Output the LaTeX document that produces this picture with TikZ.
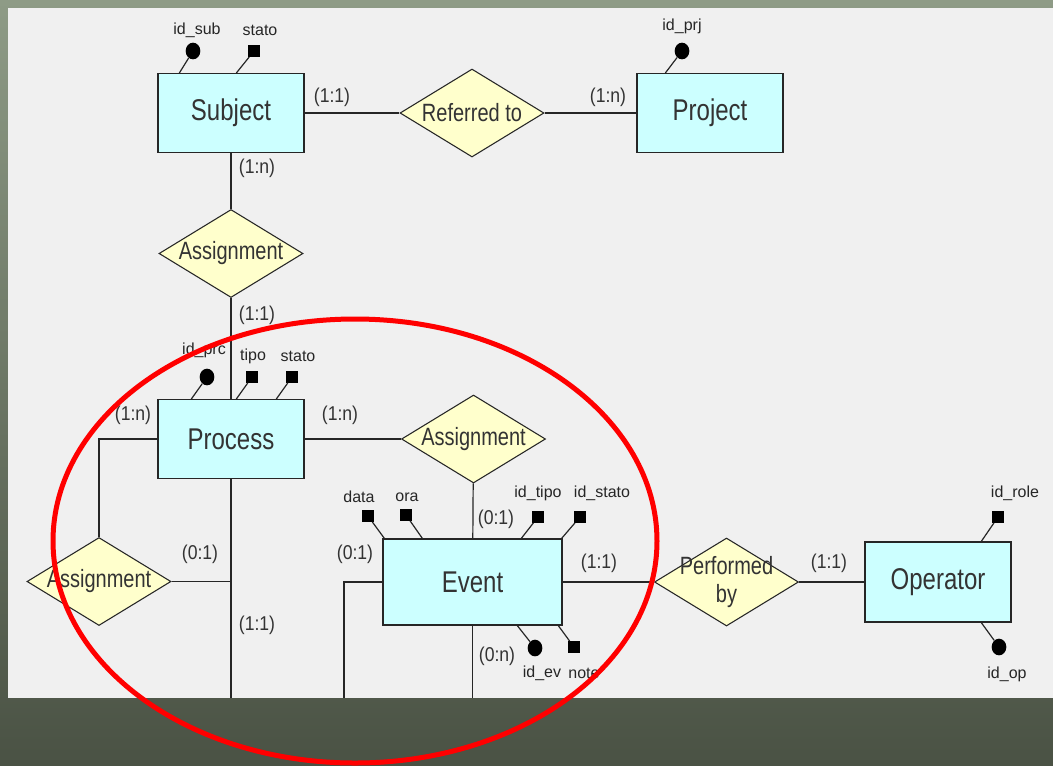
\documentclass[tikz,border=0pt]{standalone}
\usepackage{fontspec}
\setmainfont{Liberation Sans}
\newfontfamily\erfont[FakeStretch=0.8]{Liberation Sans}
\newfontfamily\cardfont[FakeStretch=0.88]{Liberation Sans}
\usetikzlibrary{shapes.geometric,calc}
\definecolor{boardtop}{HTML}{8E9B86}
\definecolor{boardbot}{HTML}{4A5244}
\definecolor{panelgray}{HTML}{F0F0F0}
\definecolor{entfill}{HTML}{CCFFFF}
\definecolor{relfill}{HTML}{FFFFCC}
\definecolor{ertext}{HTML}{333333}

\begin{document}
\begin{tikzpicture}[x=0.75pt,y=0.75pt,yscale=-1,xscale=1,
  entity/.style={draw=black!85,line width=1pt,fill=entfill,inner sep=0pt,minimum width=109.5pt,minimum height=59pt,text=ertext,font=\erfont\fontsize{22.5pt}{26pt}\selectfont},
  relation/.style={diamond,draw=black!85,line width=0.8pt,fill=relfill,inner sep=0pt,minimum width=108pt,minimum height=66pt},
  reltext/.style={text=ertext,font=\erfont\fontsize{18.75pt}{21pt}\selectfont,align=center},
  card/.style={text=ertext,font=\cardfont\fontsize{15pt}{18pt}\selectfont,inner sep=0pt},
  attname/.style={text=black!85,font=\fontsize{12pt}{14pt}\selectfont,inner sep=0pt},
  keyatt/.style={ellipse,fill=black,inner sep=0pt,minimum width=11pt,minimum height=12.5pt},
  plainatt/.style={rectangle,fill=black,inner sep=0pt,minimum size=8.5pt},
  link/.style={draw=black!85,line width=0.9pt}]
\clip (0,0) rectangle (1053,765);

%Board and panel
\shade[top color=boardtop,bottom color=boardbot] (0,0) rectangle (1053,765);
\fill[panelgray] (8,8) rectangle (1053,698);

%Entities
\node[entity] (subject) at (231,113) {Subject};
\node[entity] (project) at (710,113) {Project};
\node[entity] (process) at (231,439) {Process};
\node[entity,minimum width=134.25pt,minimum height=64.5pt] (event) at (472.5,582) {Event};
\node[entity,minimum height=60pt] (operator) at (938,582) {Operator};

%Relations
\node[relation,label={[reltext]center:Referred to}] (referred) at (472,113) {};
\node[relation,label={[reltext]center:Assignment}] (asgsub) at (231,253.5) {};
\node[relation,label={[reltext]center:Assignment}] (asgevt) at (473.5,439) {};
\node[relation,label={[reltext]center:Assignment}] (asgprc) at (99,581.5) {};
\node[relation,label={[reltext]center:Performed\\by}] (performed) at (726.5,582) {};

%Free ends at the panel border
\coordinate (cutprc) at (231,698);
\coordinate (cutevl) at (344,698);
\coordinate (cutevb) at (472.5,698);

%Links
\draw[link] (subject) -- (referred);
\draw[link] (referred) -- (project);
\draw[link] (subject) -- (asgsub);
\draw[link] (asgsub) -- (process);
\draw[link] (process) -- (asgevt);
\draw[link] (asgevt) -- (event);
\draw[link] (event) -- (performed);
\draw[link] (performed) -- (operator);
\draw[link] (process.west) -| (asgprc.north);
\draw[link] (asgprc.east) -- (asgprc.east -| process.south);
\draw[link] (process.south) -- (cutprc);
\draw[link] (event.west) -| (cutevl);
\draw[link] (event.south) -- (cutevb);

%Cardinalities
\node[card] (c1) at (332,97) {(1:1)};
\node[card] (c2) at (608,97) {(1:n)};
\node[card] (c3) at (257,168) {(1:n)};
\node[card] (c4) at (257,315) {(1:1)};
\node[card] (c5) at (133,415) {(1:n)};
\node[card] (c6) at (340,415) {(1:n)};
\node[card] (c7) at (496,519) {(0:1)};
\node[card] (c8) at (200,554) {(0:1)};
\node[card] (c9) at (355,554) {(0:1)};
\node[card] (c10) at (599,563) {(1:1)};
\node[card] (c11) at (829,563) {(1:1)};
\node[card] (c12) at (497,656) {(0:n)};
\node[card] (c13) at (257,625) {(1:1)};

%Attributes of Subject
\node[keyatt] (idsub) at (193,51) {};
\node[attname] (idsubl) at (197,30) {id\_sub};
\draw[link] ($(subject.north west)+(22,0)$) -- (idsub);
\node[plainatt] (statosub) at (254,51) {};
\node[attname] (statosubl) at (260,30) {stato};
\draw[link] ($(subject.north west)+(79,0)$) -- (statosub);

%Attributes of Project
\node[keyatt] (idprj) at (682,51) {};
\node[attname] (idprjl) at (682,26) {id\_prj};
\draw[link] ($(project.north west)+(29,0)$) -- (idprj);

%Attributes of Process
\node[keyatt] (idprc) at (207,377) {};
\node[attname] (idprcl) at (204,350) {id\_prc};
\draw[link] ($(process.north west)+(34,0)$) -- (idprc);
\node[plainatt] (tipo) at (252,377) {};
\node[attname] (tipol) at (253,356) {tipo};
\draw[link] ($(process.north west)+(79,0)$) -- (tipo);
\node[plainatt] (statoprc) at (292,377) {};
\node[attname] (statoprcl) at (298,356) {stato};
\draw[link] ($(process.north west)+(119,0)$) -- (statoprc);

%Attributes of Event
\node[plainatt] (data) at (368,516) {};
\node[attname] (datal) at (359,497) {data};
\draw[link] ($(event.north west)+(2,0)$) -- (data);
\node[plainatt] (ora) at (406,515) {};
\node[attname] (oral) at (407,497) {ora};
\draw[link] ($(event.north west)+(40,0)$) -- (ora);
\node[plainatt] (idtipo) at (538,517) {};
\node[attname] (idtipol) at (538,493) {id\_tipo};
\draw[link] ($(event.north west)+(139,0)$) -- (idtipo);
\node[plainatt] (idstato) at (580,517) {};
\node[attname] (idstatol) at (602,493) {id\_stato};
\draw[link] ($(event.north east)+(-1,0)$) -- (idstato);
\node[keyatt] (idev) at (535,648) {};
\node[attname] (idevl) at (542,673) {id\_ev};
\draw[link] ($(event.south west)+(135,0)$) -- (idev);
\node[plainatt] (note) at (574,647) {};
\node[attname] (notel) at (584,673) {note};
\draw[link] ($(event.south west)+(176,0)$) -- (note);

%Attributes of Operator
\node[plainatt] (idrole) at (998,517) {};
\node[attname] (idrolel) at (1015,493) {id\_role};
\draw[link] ($(operator.north west)+(117,0)$) -- (idrole);
\node[keyatt] (idop) at (999,647) {};
\node[attname] (idopl) at (1007,674) {id\_op};
\draw[link] ($(operator.south west)+(117,0)$) -- (idop);

%Highlight
\draw[red,line width=3.75pt] (355,541) ellipse [x radius=302,y radius=222];

\end{tikzpicture}
\end{document}
